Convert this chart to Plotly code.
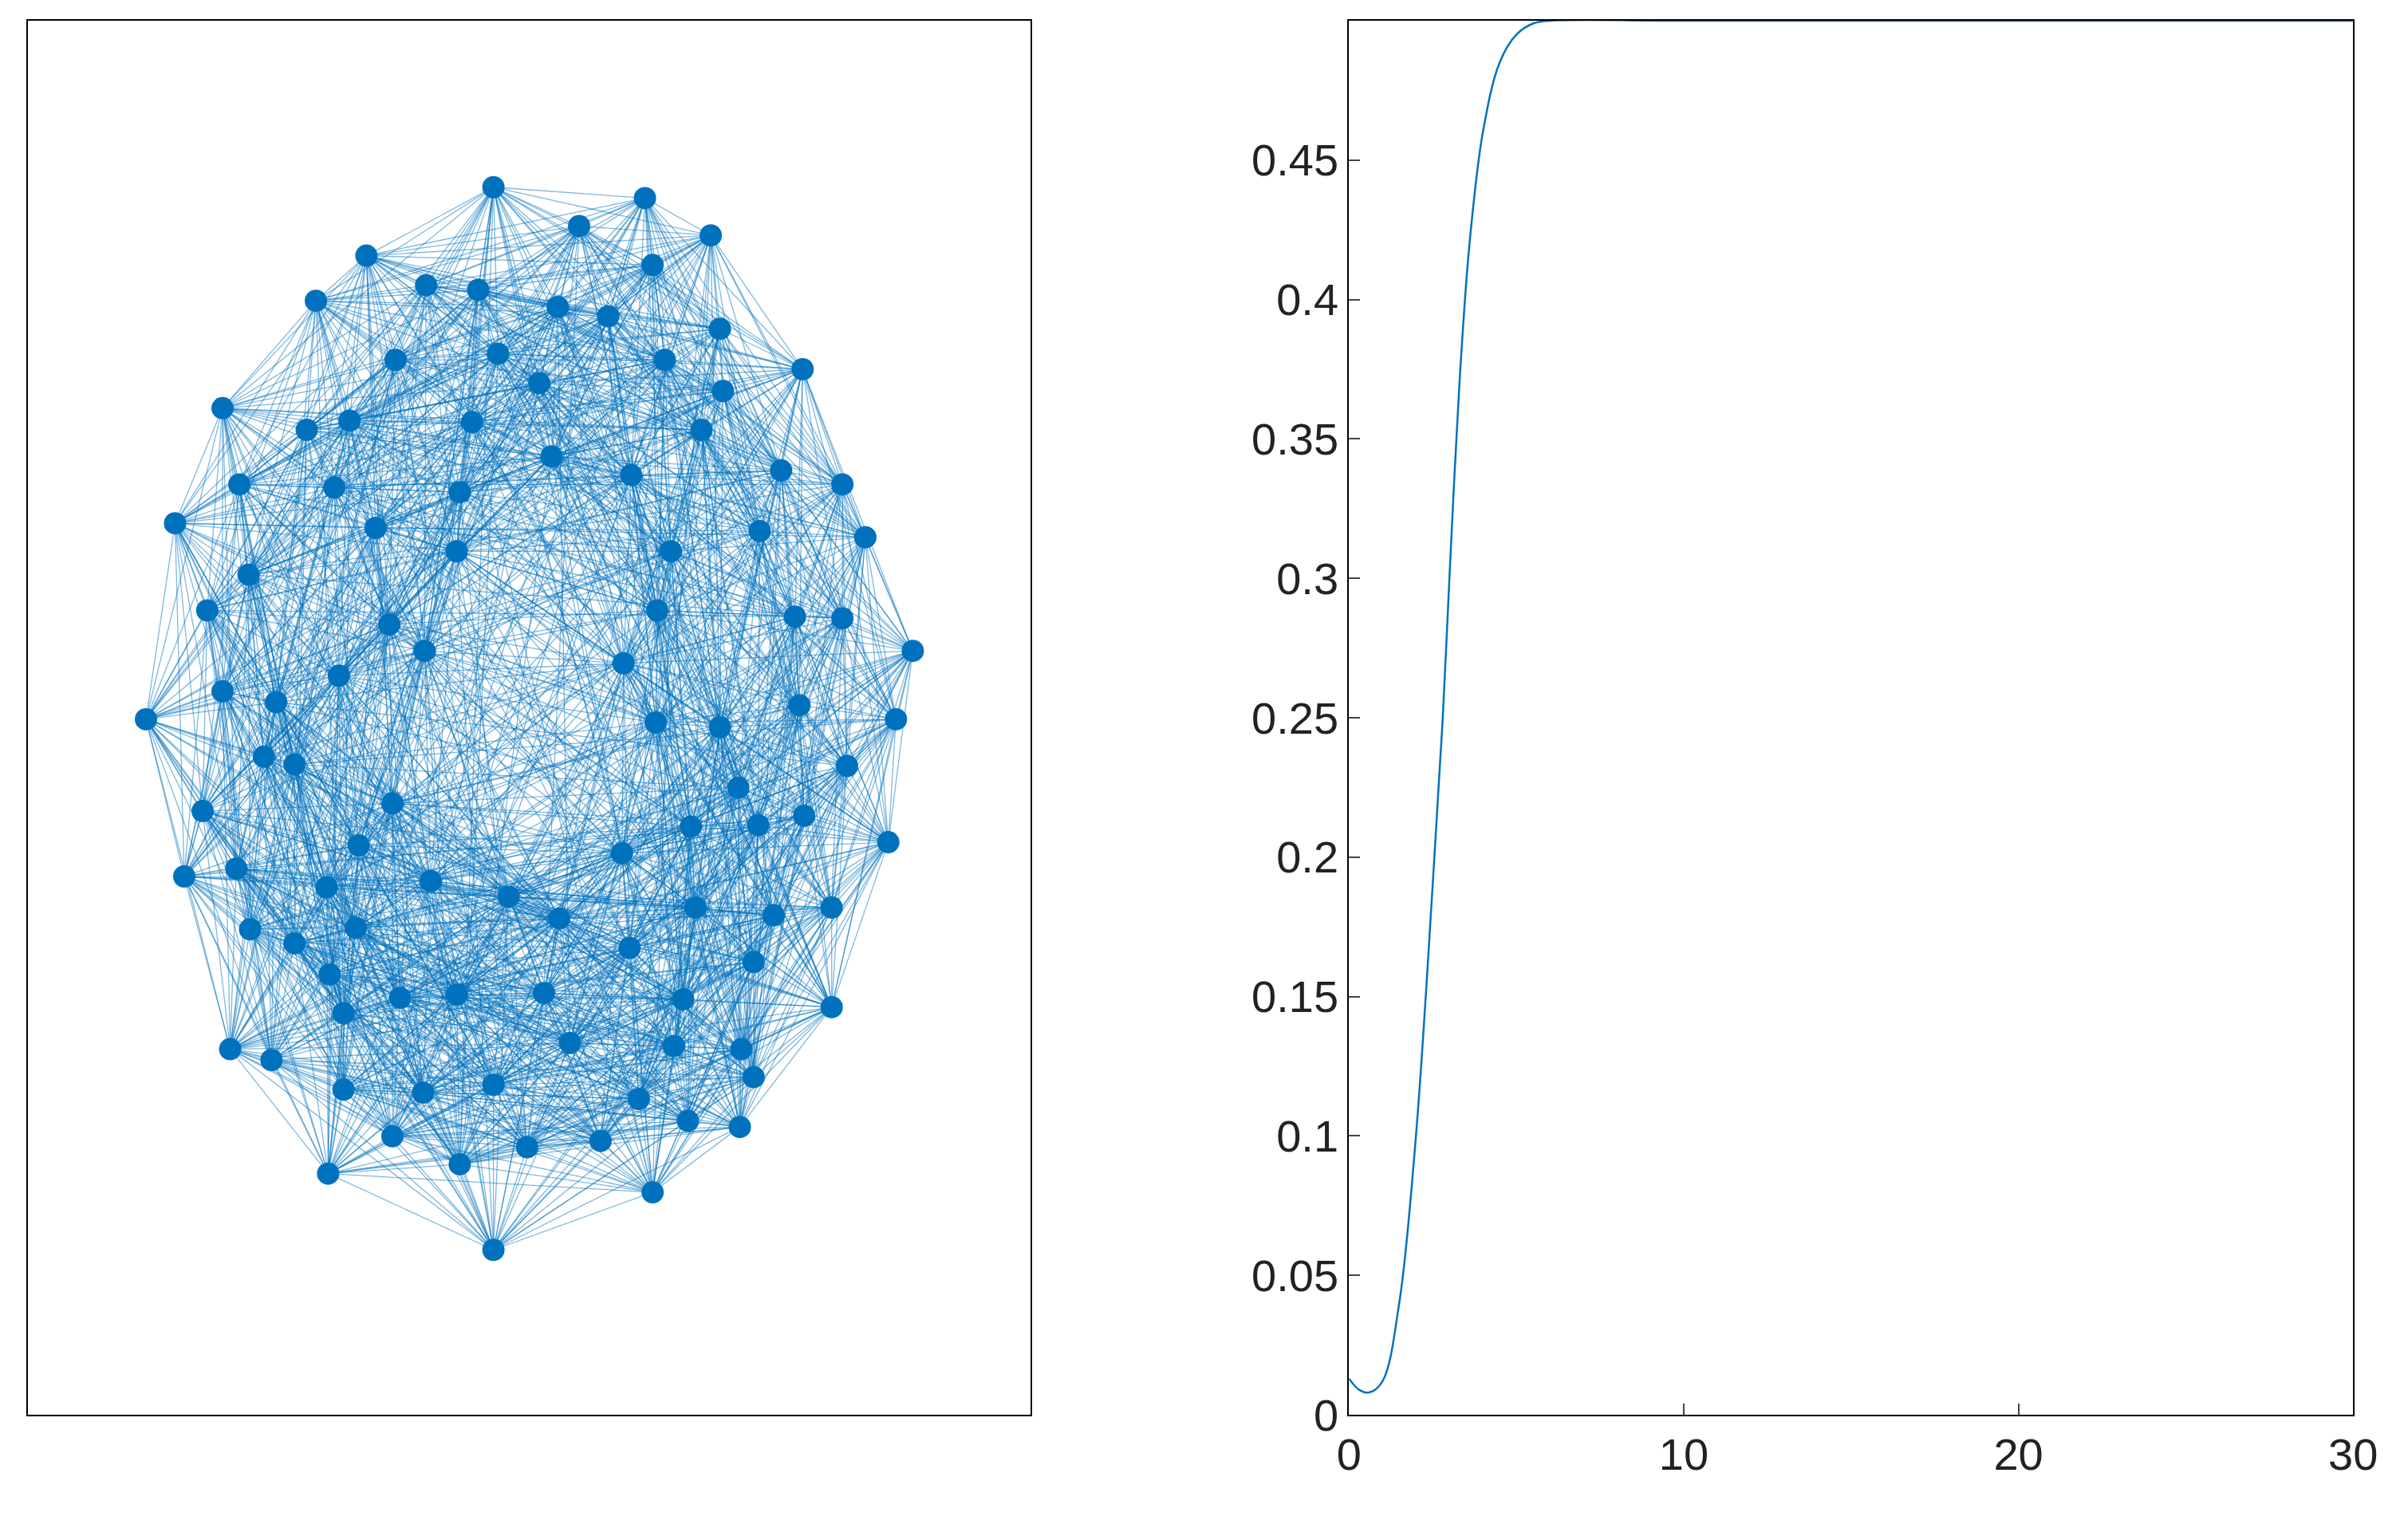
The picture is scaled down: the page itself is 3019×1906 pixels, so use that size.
import plotly.graph_objects as go
import numpy as np

node_x = [320,419,376,462,237,424,204,276,310,362,395,468,256,323,350,432,522,143,198,226,306,470,456,154,216,298,358,410,508,548,112,243,296,436,494,563,160,133,252,275,427,517,548,594,93,143,178,219,426,468,520,583,130,190,254,449,493,523,551,578,118,152,211,232,279,404,161,363,452,503,541,213,409,490,259,296,353,444,541,148,175,222,370,438,482,222,274,320,415,490,254,298,342,390,447,481,212,424,320,190,330,230,170,480,405]
node_y = [134,141,159,165,178,184,207,197,200,211,217,225,245,241,260,245,251,276,290,284,285,265,290,325,327,330,307,319,316,325,350,353,368,368,355,359,383,406,415,432,406,410,411,432,476,458,465,448,478,481,467,476,535,505,530,545,544,538,506,555,577,572,584,557,580,562,611,604,597,602,597,640,623,632,655,653,652,656,661,688,695,665,684,686,688,714,716,711,720,706,744,762,751,747,734,738,768,780,817,620,590,610,500,520,440]

curve_x = [0,0.3,0.6,1.0,1.5,2.0,2.5,2.8,3.0,3.3,3.6,4.0,4.5,5.0,5.5,6.0,10,20,30]
curve_y = [0.013,0.009,0.008,0.012,0.04,0.1,0.19,0.25,0.30,0.37,0.42,0.46,0.485,0.495,0.499,0.5,0.5,0.5,0.5]
yticks = [0,0.05,0.1,0.15,0.2,0.25,0.3,0.35,0.4,0.45,0.5]
ytick_text = ["0","0.05","0.1","0.15","0.2","0.25","0.3","0.35","0.4","0.45","0.5"]
xticks = [0,10,20,30]

BLUE = "#0072BD"
xs = np.array(node_x, float); ys = np.array(node_y, float)
ex, ey = [], []
n = len(xs)
for i in range(n):
    for j in range(i+1, n):
        d = np.hypot(xs[i]-xs[j], ys[i]-ys[j])
        if d < 240 or (i + j) % 13 == 0:
            ex += [xs[i], xs[j], None]; ey += [ys[i], ys[j], None]

fig = go.Figure()
fig.add_trace(go.Scatter(x=ex, y=ey, mode="lines", line=dict(color="rgba(0,114,189,0.5)", width=1.3),
                         xaxis="x", yaxis="y", hoverinfo="skip"))
fig.add_trace(go.Scatter(x=node_x, y=node_y, mode="markers", marker=dict(color=BLUE, size=28),
                         xaxis="x", yaxis="y"))
fig.add_trace(go.Scatter(x=curve_x, y=curve_y, mode="lines", line=dict(color=BLUE, width=2.5, shape="spline"),
                         xaxis="x2", yaxis="y2"))

ax = dict(showline=True, linecolor="black", linewidth=2, mirror=True, zeroline=False, showgrid=False)
fig.update_layout(
    width=3019, height=1906, showlegend=False, plot_bgcolor="white", paper_bgcolor="white",
    margin=dict(l=0, r=0, t=0, b=0),
    font=dict(family="Liberation Sans, Arial", size=56, color="#222"),
    xaxis=dict(domain=[0.0038, 0.4267], range=[16, 671], showticklabels=False, ticks="", **ax),
    yaxis=dict(domain=[0.0576, 0.9904], range=[923, 27], showticklabels=False, ticks="", **ax),
    xaxis2=dict(domain=[0.561, 0.9846], range=[0, 30], tickvals=xticks, ticks="inside", ticklen=14,
                tickwidth=2, anchor="y2", **ax),
    yaxis2=dict(domain=[0.0576, 0.9904], range=[0, 0.5], tickvals=yticks, ticktext=ytick_text,
                ticks="inside", ticklen=14, tickwidth=2, anchor="x2", **ax),
)
fig.write_html("out.html")
